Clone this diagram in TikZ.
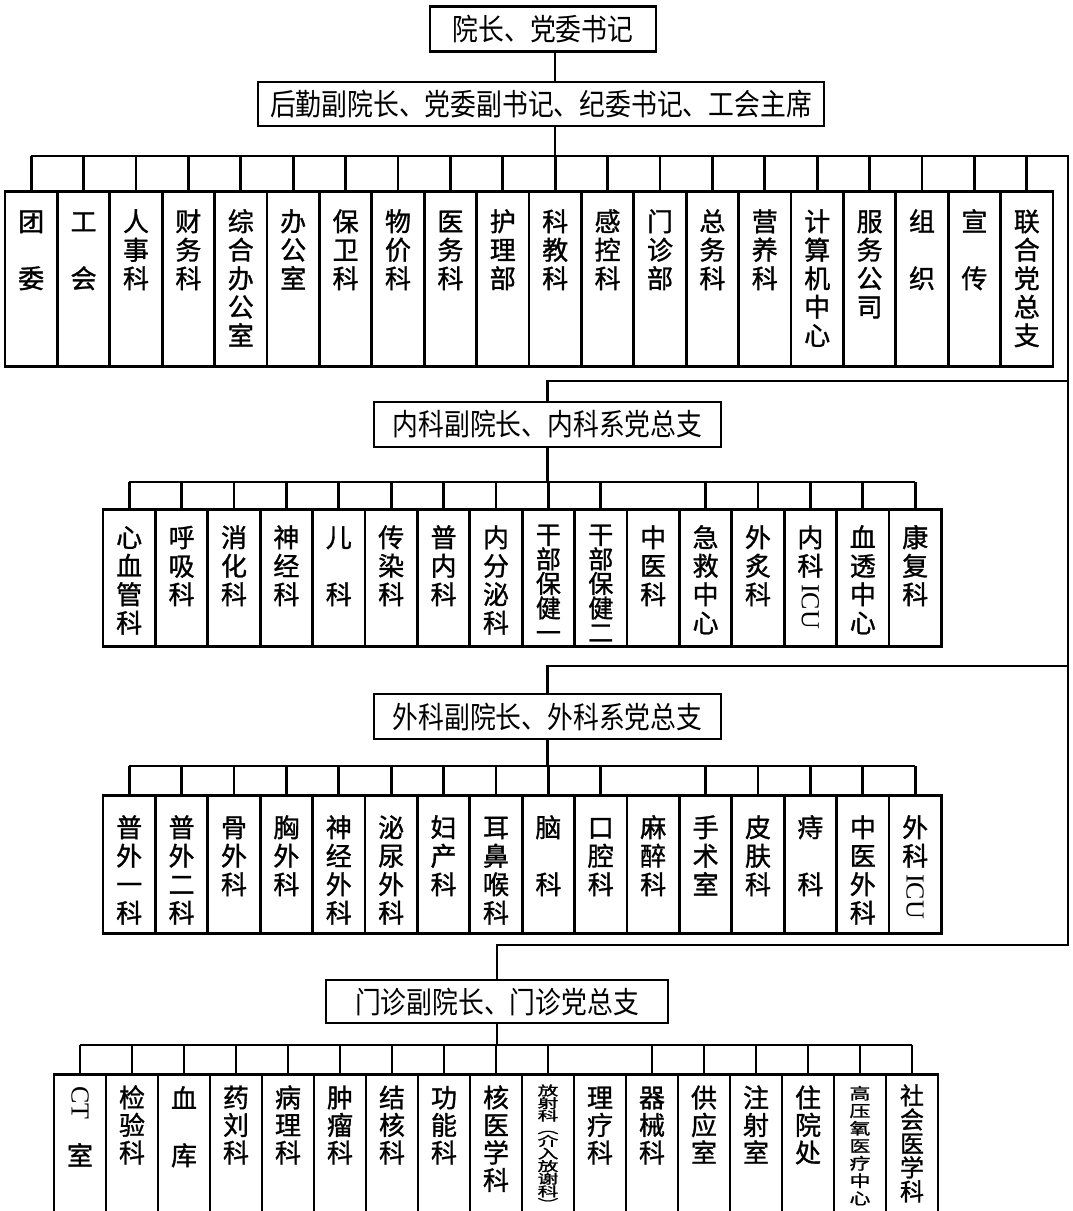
\documentclass[tikz,border=0pt]{standalone}
\usepackage{fontspec}
\usepackage{graphicx}
\setmainfont{Liberation Serif}
\newfontfamily\cjk[FakeBold=1.2]{Noto Sans CJK SC}
\newfontfamily\cjkhead[FakeStretch=0.86]{Noto Sans CJK SC}
\newcommand\myicu{\raisebox{20pt}{\rotatebox{-90}{\rmfamily ICU}}}
\newcommand\myct{\raisebox{22pt}{\rotatebox{-90}{\rmfamily CT}}}
\makeatletter
% vertical text: [xscale]{size}{pitch}{characters}
\newcommand\vst[4][1]{\vbox{\fontsize{#2}{#3}\selectfont\offinterlineskip
  \@tfor\vx:=#4\do{\hbox to #1\dimexpr#2\relax{\hss\vrule height .8\dimexpr#3\relax depth .2\dimexpr#3\relax width 0pt\smash{\scalebox{#1}[1]{\vx}}\hss}}}}
\makeatother
\newcommand\vv[1]{\vst{26pt}{28.5pt}{#1}}
\begin{document}
\begin{tikzpicture}[x=1pt,y=-1pt,line width=2.7pt,
  box/.style={draw,rectangle,inner sep=0pt},
  head/.style={box,font=\cjkhead\fontsize{30}{32}\selectfont},
  dtext/.style={inner sep=0pt,anchor=north,font=\cjk}]
\useasboundingbox[fill=white] (0,0) rectangle (1073,1211);
\clip (0,0) rectangle (1073,1211);

\node[head,minimum width=226pt,minimum height=45pt] (top) at (543,29) {院长、党委书记};
\node[head,minimum width=566pt,minimum height=44pt] (hq) at (541,104) {后勤副院长、党委副书记、纪委书记、工会主席};
\node[head,minimum width=347pt,minimum height=45pt] (im) at (547.5,424.5) {内科副院长、内科系党总支};
\node[head,minimum width=347pt,minimum height=45pt] (ex) at (547.5,716.5) {外科副院长、外科系党总支};
\node[head,minimum width=342pt,minimum height=43pt] (mz) at (497,1001.5) {门诊副院长、门诊党总支};

\coordinate (bus1) at (555,156);
\coordinate (rtop) at (1068,156);
\coordinate (br1) at (1068,381);
\coordinate (br2) at (1068,666);
\coordinate (rbot) at (1068,945);
\coordinate (bus2) at (548,482);
\coordinate (bus3) at (548,766);
\coordinate (bus4) at (496,1045);

% row 1
\foreach \t [count=\i] in {{\vv{团{}委}},{\vv{工{}会}},{\vv{人事科}},{\vv{财务科}},{\vv{综合办公室}},{\vv{办公室}},{\vv{保卫科}},{\vv{物价科}},{\vv{医务科}},{\vv{护理部}},{\vv{科教科}},{\vv{感控科}},{\vv{门诊部}},{\vv{总务科}},{\vv{营养科}},{\vv{计算机中心}},{\vv{服务公司}},{\vv{组{}织}},{\vv{宣{}传}},{\vv{联合党总支}}}{
  \node[box,anchor=north,minimum width=52.4pt,minimum height=175pt] (a\i) at ({5+(\i-0.5)*52.4},190) {};
  \node[dtext] (ta\i) at ([yshift=-17pt]a\i.north) {\t};
  \draw (a\i.north |- bus1) -- (a\i.north);
}
% row 2
\foreach \t [count=\i] in {{\vv{心血管科}},{\vv{呼吸科}},{\vv{消化科}},{\vv{神经科}},{\vv{儿{}科}},{\vv{传染科}},{\vv{普内科}},{\vv{内分泌科}},{\vst{25pt}{24.5pt}{干部保健一}},{\vst{25pt}{24.5pt}{干部保健二}},{\vv{中医科}},{\vv{急救中心}},{\vv{外炙科}},{\vv{内科{\myicu}}},{\vv{血透中心}},{\vv{康复科}}}{
  \node[box,anchor=north,minimum width=52.4pt,minimum height=137pt] (b\i) at ({103+(\i-0.5)*52.4},508) {};
  \node[dtext] (tb\i) at ([yshift=-15pt]b\i.north) {\t};
  \ifnum\i=11\relax\else\draw (b\i.north |- bus2) -- (b\i.north);\fi
}
% row 3
\foreach \t [count=\i] in {{\vv{普外一科}},{\vv{普外二科}},{\vv{骨外科}},{\vv{胸外科}},{\vv{神经外科}},{\vv{泌尿外科}},{\vv{妇产科}},{\vv{耳鼻喉科}},{\vv{脑{}科}},{\vv{口腔科}},{\vv{麻醉科}},{\vv{手术室}},{\vv{皮肤科}},{\vv{痔{}科}},{\vv{中医外科}},{\vv{外科{\myicu}}}}{
  \node[box,anchor=north,minimum width=52.4pt,minimum height=138pt] (c\i) at ({103+(\i-0.5)*52.4},794) {};
  \node[dtext] (tc\i) at ([yshift=-19pt]c\i.north) {\t};
  \ifnum\i=11\relax\else\draw (c\i.north |- bus3) -- (c\i.north);\fi
}
% row 4
\foreach \t [count=\i] in {{\vv{{\myct}{}室}},{\vst{26pt}{27.5pt}{检验科}},{\vv{血{}库}},{\vst{26pt}{27.5pt}{药刘科}},{\vst{26pt}{27.5pt}{病理科}},{\vst{26pt}{27.5pt}{肿瘤科}},{\vst{26pt}{27.5pt}{结核科}},{\vst{26pt}{27.5pt}{功能科}},{\vst{26pt}{27.5pt}{核医学科}},{\vst[1.6]{13pt}{12.6pt}{放射科︵介入放谢科︶}},{\vst{26pt}{27.5pt}{理疗科}},{\vst{26pt}{27.5pt}{器械科}},{\vst{26pt}{27.5pt}{供应室}},{\vst{26pt}{27.5pt}{注射室}},{\vst{26pt}{27.5pt}{住院处}},{\vst[1.3]{16pt}{17.5pt}{高压氧医疗中心}},{\vst{24pt}{24pt}{社会医学科}}}{
  \node[box,anchor=north,minimum width=52pt,minimum height=170pt] (d\i) at ({54+(\i-0.5)*52},1073) {};
  \node[dtext] (td\i) at ([yshift=-11pt]d\i.north) {\t};
  \ifnum\i=11\relax\else\draw (d\i.north |- bus4) -- (d\i.north);\fi
}

% connectors
\draw (top.south -| bus1) -- (hq.north -| bus1);
\draw (hq.south -| bus1) -- (bus1);
\draw (a1.north |- bus1) -- (rtop) -- (rbot) -- (mz.north |- rbot) -- (mz.north);
\draw (br1) -- (im.north |- br1) -- (im.north);
\draw (br2) -- (ex.north |- br2) -- (ex.north);
\draw (im.south) -- (im.south |- bus2);
\draw (b1.north |- bus2) -- (b16.north |- bus2);
\draw (ex.south) -- (ex.south |- bus3);
\draw (c1.north |- bus3) -- (c16.north |- bus3);
\draw (mz.south) -- (mz.south |- bus4);
\draw (d1.north |- bus4) -- (d17.north |- bus4);
\end{tikzpicture}
\end{document}
